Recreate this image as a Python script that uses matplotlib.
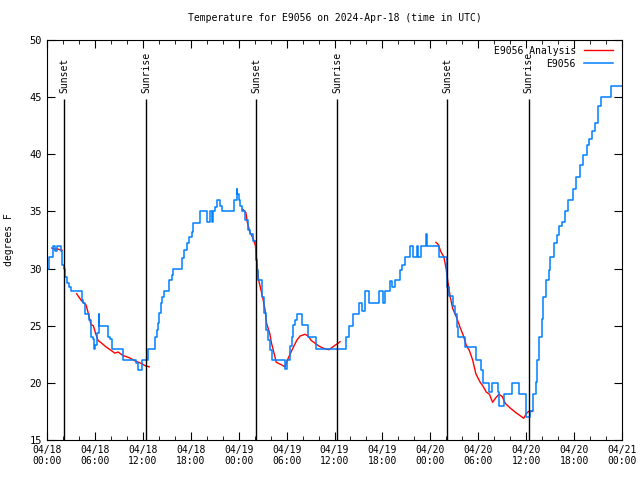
import numpy as np
import matplotlib
matplotlib.use('Agg')
import matplotlib.pyplot as plt

plt.rcParams['font.family'] = ['DejaVu Sans Mono']

# hours since 2024-04-18 00:00 UTC, temperature in F
obs_hours = [0.0, 0.3, 0.7, 1.0, 1.3, 1.7, 1.85, 2.1, 2.3, 2.45, 2.7, 3.0,
             4.35, 4.55, 4.75, 5.2, 5.45, 5.7, 5.9, 6.0, 6.2, 6.45, 6.55,
             7.6, 7.9, 8.1, 9.55, 11.2, 11.45, 11.85, 12.7, 13.5, 13.75,
             13.85, 14.05, 14.25, 14.45, 14.65, 15.3, 15.7, 15.8, 16.85,
             17.2, 17.5, 17.8, 18.1, 18.3, 19.15, 20.0, 20.4, 20.6, 20.8,
             21.0, 21.3, 21.65, 21.9, 23.45, 23.75, 23.8, 24.1, 24.15, 24.4,
             24.8, 25.2, 25.4, 25.85, 26.2, 26.25, 26.45, 26.9, 27.2, 27.45,
             27.65, 27.9, 28.15, 29.8, 30.1, 30.4, 30.65, 30.85, 31.05,
             31.35, 31.95, 32.7, 33.65, 37.45, 37.85, 38.35, 39.05, 39.5,
             39.8, 40.35, 41.6, 42.1, 42.3, 43.0, 43.25, 43.6, 44.2, 44.5,
             44.8, 45.45, 45.85, 46.3, 46.5, 46.8, 47.4, 47.55, 49.1, 50.05,
             50.1, 50.4, 50.8, 51.1, 51.3, 51.5, 52.35, 53.7, 54.3, 54.55,
             55.35, 55.7, 56.45, 56.65, 57.25, 58.2, 59.15, 59.95, 60.5,
             60.9, 61.2, 61.4, 61.65, 61.95, 62.15, 62.45, 62.8, 63.0, 63.5,
             63.8, 64.15, 64.45, 64.85, 65.3, 65.9, 66.3, 66.75, 67.15, 67.6,
             67.9, 68.2, 68.6, 69.0, 69.4, 70.6, 72.0]
obs_temps = [30.0, 31.0, 32.0, 31.5, 32.0, 31.5, 30.3, 30.0, 29.3, 28.7, 28.4, 28.0,
             27.25, 27.0, 26.0, 25.5, 24.0, 23.8, 23.0, 23.3, 24.4, 26.0, 25.0,
             24.0, 23.8, 23.0, 22.0, 21.7, 21.1, 22.0, 23.0, 24.0, 24.6,
             25.2, 26.1, 27.0, 27.5, 28.0, 29.0, 29.4, 30.0, 30.9,
             31.6, 32.2, 32.8, 33.2, 34.0, 35.0, 34.1, 35.0, 34.1, 35.0,
             35.4, 36.0, 35.5, 35.0, 36.0, 37.0, 36.5, 36.0, 35.5, 35.0,
             34.25, 33.4, 33.0, 32.4, 30.75, 29.9, 29.0, 27.5, 26.1, 24.6,
             23.75, 22.9, 22.0, 21.2, 22.0, 23.2, 24.0, 25.1, 25.5,
             26.0, 25.1, 24.0, 23.0, 24.0, 25.0, 26.0, 27.0, 26.3,
             28.0, 27.0, 28.0, 27.0, 28.0, 28.9, 28.4, 29.0, 29.9, 30.3,
             31.0, 32.0, 31.0, 32.0, 31.0, 32.0, 33.0, 32.0, 31.0, 30.2,
             28.4, 27.6, 26.7, 26.0, 24.9, 24.0, 23.1, 22.0, 21.1, 20.0,
             19.2, 20.0, 19.2, 18.0, 19.0, 20.0, 19.0, 17.05, 17.5,
             19.0, 20.1, 22.0, 24.0, 25.6, 27.5, 29.0, 29.9, 31.0, 32.2,
             32.9, 33.7, 34.1, 35.0, 36.0, 37.0, 38.0, 39.1, 39.9, 40.8,
             41.3, 42.0, 42.7, 44.2, 45.0, 46.0, 46.0]

# analysis segments (one per night)
ana_hours = [
    [0.6, 1.0, 1.4, 1.9],
    [3.7, 4.3, 4.9, 5.2, 5.5, 5.8, 6.1, 6.4, 6.8, 7.3, 7.9, 8.5, 8.9,
     9.5, 10.3, 11.1, 11.8, 12.3, 12.8],
    [24.5, 24.9, 25.1, 25.4, 25.8, 26.1, 26.3, 26.5, 26.7, 27.0, 27.3,
     27.5, 27.9, 28.1, 28.5, 28.7, 29.3, 29.8, 30.1, 30.5, 30.9, 31.3,
     31.7, 32.3, 32.7, 33.1, 33.5, 34.1, 34.7, 35.3, 36.1, 36.7],
    [48.7, 49.0, 49.3, 49.7, 50.0, 50.2, 50.5, 50.8, 51.3, 51.7, 52.1,
     52.5, 52.9, 53.3, 53.7, 54.2, 54.6, 55.0, 55.4, 55.8, 56.2, 56.6,
     57.0, 57.4, 58.0, 58.7, 59.3, 59.7, 60.0, 60.3, 60.8],
]
ana_temps = [
    [31.8, 31.7, 31.7, 31.6],
    [27.8, 27.2, 26.8, 26.0, 25.1, 25.0, 24.3, 23.7, 23.5, 23.2, 22.9,
     22.6, 22.7, 22.4, 22.2, 21.9, 21.7, 21.5, 21.4],
    [35.2, 34.9, 34.0, 33.2, 32.65, 32.0, 30.3, 29.0, 28.4, 27.5, 26.4,
     25.2, 24.3, 23.5, 22.4, 21.8, 21.6, 21.4, 22.0, 22.6, 23.2, 23.75,
     24.1, 24.25, 24.1, 23.7, 23.5, 23.2, 23.0, 22.9, 23.3, 23.6],
    [32.3, 32.1, 31.5, 31.0, 29.9, 28.8, 27.5, 26.5, 25.7, 24.9, 24.2,
     23.3, 22.8, 22.0, 20.8, 20.1, 19.7, 19.2, 19.0, 18.3, 18.7, 19.0,
     18.8, 18.2, 17.8, 17.4, 17.1, 16.9, 17.3, 17.5, 17.5],
]

sun_hours = [2.13, 12.4, 26.2, 36.3, 50.1, 60.3]
sun_labels = ['Sunset', 'Sunrise', 'Sunset', 'Sunrise', 'Sunset', 'Sunrise']

xtick_hours = [0, 6, 12, 18, 24, 30, 36, 42, 48, 54, 60, 66, 72]
xtick_labels = ['04/18\n00:00', '04/18\n06:00', '04/18\n12:00', '04/18\n18:00',
                '04/19\n00:00', '04/19\n06:00', '04/19\n12:00', '04/19\n18:00',
                '04/20\n00:00', '04/20\n06:00', '04/20\n12:00', '04/20\n18:00',
                '04/21\n00:00']

fig = plt.figure(figsize=(6.4, 4.8), dpi=100)
ax = fig.add_axes([47/640, 40/480, 575/640, 400/480])

for i, (h, t) in enumerate(zip(ana_hours, ana_temps)):
    ax.plot(h, t, color='#ff0000', lw=1, label='E9056 Analysis' if i == 0 else None)
ax.plot(obs_hours, obs_temps, color='#0080ff', lw=1.1, drawstyle='steps-post', label='E9056')

for h, lab in zip(sun_hours, sun_labels):
    ax.vlines(h, 15, 44.8, color='black', lw=1)
    ax.text(h, 45.4, lab, rotation=90, ha='center', va='bottom', fontsize=7)

ax.set_xlim(0, 72)
ax.set_ylim(15, 50)
ax.set_xticks(xtick_hours)
ax.set_xticklabels(xtick_labels, fontsize=7)
ax.set_xticks(np.arange(0, 73, 2), minor=True)
ax.set_yticks([15, 20, 25, 30, 35, 40, 45, 50])
ax.tick_params(axis='y', labelsize=7.5)
ax.tick_params(which='both', direction='in', top=True, right=True)
ax.tick_params(which='major', length=6)
ax.tick_params(which='minor', length=3)

ax.set_ylabel('degrees F', fontsize=7)
ax.yaxis.set_label_coords(-0.057, 0.5)
ax.set_title('Temperature for E9056 on 2024-Apr-18 (time in UTC)', fontsize=7, pad=14)

ax.legend(loc='upper right', frameon=False, markerfirst=False, fontsize=7,
          handlelength=3, borderaxespad=0.2, labelspacing=0.3,
          bbox_to_anchor=(0.994, 1.0))

fig.savefig('out.png', dpi=100)
